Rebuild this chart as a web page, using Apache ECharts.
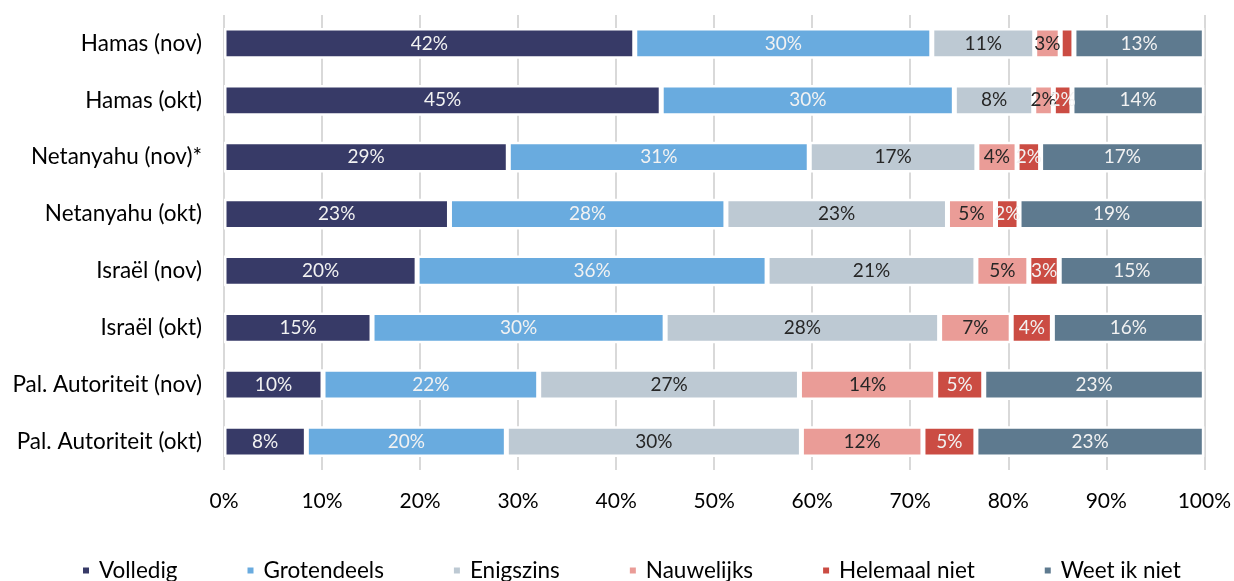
<!DOCTYPE html>
<html>
<head>
<meta charset="utf-8">
<script src="https://cdn.jsdelivr.net/npm/echarts@6/dist/echarts.min.js"></script>
<style>
  html, body { margin: 0; padding: 0; background: #fff; }
  #chart { width: 1234px; height: 581px; }
</style>
</head>
<body>
<div id="chart"></div>
<script>
const categories = ['Hamas (nov)', 'Hamas (okt)', 'Netanyahu (nov)*', 'Netanyahu (okt)', 'Israël (nov)', 'Israël (okt)', 'Pal. Autoriteit (nov)', 'Pal. Autoriteit (okt)'];
const volledig     = [41.9, 44.6, 29.0, 23.0, 19.7, 15.1, 10.1, 8.4];
const grotendeels  = [30.3, 29.9, 30.7, 28.2, 35.7, 29.9, 22.0, 20.4];
const enigszins    = [10.5, 8.1, 17.1, 22.6, 21.3, 28.0, 26.6, 30.1];
const nauwelijks   = [2.6, 2.0, 4.1, 4.9, 5.4, 7.3, 13.9, 12.4];
const helemaalNiet = [1.4, 1.9, 2.4, 2.4, 3.1, 4.2, 4.9, 5.4];
const weetIkNiet   = [13.3, 13.5, 16.7, 18.9, 14.8, 15.5, 22.5, 23.3];
const xTicks = [0, 10, 20, 30, 40, 50, 60, 70, 80, 90, 100];

const seriesDefs = [
  { name: 'Volledig', data: volledig, color: '#373A67', label: '#F2F2F2' },
  { name: 'Grotendeels', data: grotendeels, color: '#69ABDF', label: '#F2F2F2' },
  { name: 'Enigszins', data: enigszins, color: '#BDC9D3', label: '#262626' },
  { name: 'Nauwelijks', data: nauwelijks, color: '#EA9C97', label: '#262626' },
  { name: 'Helemaal niet', data: helemaalNiet, color: '#CB4C43', label: '#F2F2F2' },
  { name: 'Weet ik niet', data: weetIkNiet, color: '#5E7A8F', label: '#F2F2F2' }
];

const FONT = 'Lato';
const chart = echarts.init(document.getElementById('chart'), null, { renderer: 'canvas' });
chart.setOption({
  animation: false,
  backgroundColor: '#fff',
  textStyle: { fontFamily: FONT },
  grid: { left: 224, right: 29, top: 15, bottom: 111, containLabel: false },
  legend: {
    bottom: -6,
    left: 76,
    itemWidth: 8,
    itemHeight: 8,
    itemGap: 68,
    icon: 'rect',
    textStyle: { fontFamily: FONT, fontSize: 22.5, color: '#000', padding: [0, 0, 0, 4] },
    data: seriesDefs.map(s => s.name)
  },
  xAxis: {
    type: 'value',
    min: xTicks[0],
    max: xTicks[xTicks.length - 1],
    interval: 10,
    axisLine: { show: false },
    axisTick: { show: false },
    splitLine: { show: true, lineStyle: { color: '#D9D9D9', width: 2 } },
    axisLabel: { formatter: '{value}%', fontFamily: FONT, fontSize: 21, color: '#000', margin: 21 }
  },
  yAxis: {
    type: 'category',
    data: categories,
    inverse: true,
    axisLine: { show: false },
    axisTick: { show: false },
    axisLabel: { fontFamily: FONT, fontSize: 22.5, color: '#000', margin: 22 }
  },
  series: seriesDefs.map(s => ({
    name: s.name,
    type: 'bar',
    stack: 'total',
    barCategoryGap: '46%',
    data: s.data,
    itemStyle: { color: s.color, borderColor: '#fff', borderWidth: 2.5 },
    label: {
      show: true,
      position: 'inside',
      fontFamily: FONT,
      fontSize: 19,
      color: s.label,
      formatter: p => (Math.round(p.value) < 2 ? '' : Math.round(p.value) + '%')
    }
  }))
});
</script>
</body>
</html>
